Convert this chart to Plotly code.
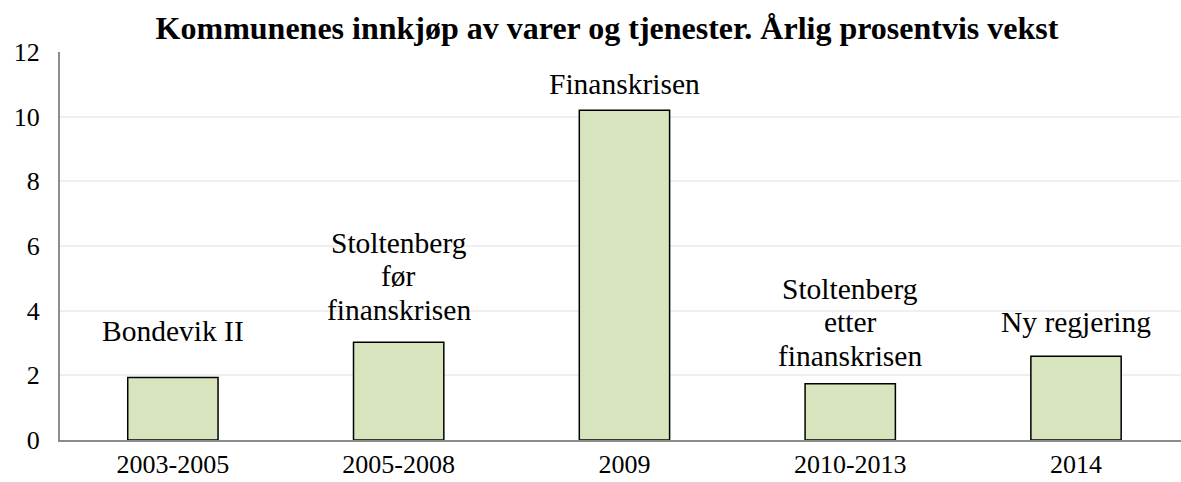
import plotly.graph_objects as go

categories = ["2003-2005", "2005-2008", "2009", "2010-2013", "2014"]
values = [1.93, 3.02, 10.2, 1.74, 2.59]
labels = ["Bondevik II", "Stoltenberg<br>før<br>finanskrisen", "Finanskrisen",
          "Stoltenberg<br>etter<br>finanskrisen", "Ny regjering"]
title_text = "Kommunenes innkjøp av varer og tjenester. Årlig prosentvis vekst"
y_ticks = [0, 2, 4, 6, 8, 10, 12]

FONT = "Liberation Serif"

fig = go.Figure()
fig.add_trace(go.Bar(
    x=categories, y=values, width=0.4,
    marker=dict(color="#d7e4bd", line=dict(color="black", width=1.5)),
    hoverinfo="skip",
))

# label placement (pixels above bar top for bottom line, line spacing)
label_gaps = [28.6, 14.6, 8.6, 10, 16.3]
LINE_STEP = 33.5
for i, (v, t, g) in enumerate(zip(values, labels, label_gaps)):
    lines = t.split("<br>")
    for j, line in enumerate(reversed(lines)):
        fig.add_annotation(x=i, y=v, xref="x", yref="y", text=line, showarrow=False,
                           yanchor="bottom", yshift=g + j * LINE_STEP,
                           font=dict(family=FONT, size=29.5, color="black"))

fig.update_layout(
    width=1181, height=482,
    margin=dict(l=60, r=0, t=52, b=42),
    paper_bgcolor="white", plot_bgcolor="white",
    showlegend=False,
    font=dict(family=FONT, color="black"),
    title=dict(text="<b>" + title_text + "</b>", x=607/1181, xanchor="center",
               y=1 - 28/482, yanchor="middle",
               font=dict(family=FONT, size=32, color="black")),
    xaxis=dict(type="category", range=[-0.5, 4.465], showline=True,
               linecolor="#8c8c8c", linewidth=1.5, showgrid=False,
               tickfont=dict(family=FONT, size=26, color="black"), ticks=""),
    yaxis=dict(range=[0, 12], tickvals=y_ticks, showline=True,
               linecolor="#8c8c8c", linewidth=2, showgrid=True,
               gridcolor="#efefef", gridwidth=2, zeroline=False,
               tickfont=dict(family=FONT, size=26, color="black"), ticks="",
               ticklabelstandoff=13),
)

fig.write_html("out.html", config={"displayModeBar": False},
               post_script="document.body.style.margin='0';document.body.style.padding='0';")
